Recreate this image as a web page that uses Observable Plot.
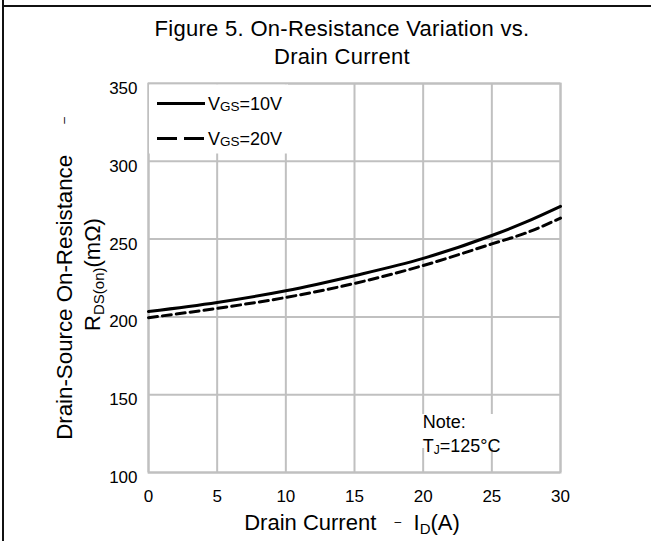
<!DOCTYPE html>
<html>
<head>
<meta charset="utf-8">
<script src="https://cdn.jsdelivr.net/npm/d3@7"></script>
<script src="https://cdn.jsdelivr.net/npm/@observablehq/plot@0.6"></script>
<style>
  html, body { margin: 0; padding: 0; background: #fff; }
  #wrap { position: relative; width: 651px; height: 541px; overflow: hidden;
          font-family: "Liberation Sans", Arial, sans-serif; color: #000; }
  #wrap svg { position: absolute; left: 0; top: 0; }
  #title { position: absolute; left: 0; top: 15px; width: 684px; text-align: center;
           font-size: 22px; line-height: 28px; letter-spacing: 0.3px; }
  .bl { position: absolute; left: 2px; top: 0; width: 2px; height: 541px; background: #111; }
  .bt { position: absolute; left: 2px; top: 5px; width: 649px; height: 2px; background: #111; }
</style>
</head>
<body>
<div id="wrap">
  <div id="title">Figure 5. On-Resistance Variation vs.<br>Drain Current</div>
</div>
<script>
// ---- data ----
const drainCurrent = [0, 5, 10, 15, 20, 25, 27.5, 30];           // A
const rdsVgs10 = [203.5, 209.3, 216.8, 226.5, 237.6, 252.3, 261, 271]; // mΩ
const rdsVgs20 = [199.5, 205.5, 212.5, 221.5, 233, 246.9, 254, 263.5]; // mΩ
const xTicks = [0, 5, 10, 15, 20, 25, 30];
const yTicks = [100, 150, 200, 250, 300, 350];
const seriesLabels = [["V", "GS", "=10V"], ["V", "GS", "=20V"]];
const noteLines = ["Note:", ["T", "J", "=125°C"]];

const s10 = drainCurrent.map((x, i) => ({x, y: rdsVgs10[i]}));
const s20 = drainCurrent.map((x, i) => ({x, y: rdsVgs20[i]}));

const FONT = '"Liberation Sans", Arial, sans-serif';
const gridColor = "#c0c0c0";

const chart = Plot.plot({
  width: 651,
  height: 541,
  marginLeft: 148,
  marginRight: 91,
  marginTop: 83,
  marginBottom: 69,
  style: {fontFamily: FONT, fontSize: "17px", background: "transparent", color: "#000", overflow: "visible"},
  x: {domain: [0, 30]},
  y: {domain: [100, 350]},
  marks: [
    Plot.gridX(xTicks, {stroke: gridColor, strokeOpacity: 1, strokeWidth: 2}),
    Plot.gridY(yTicks, {stroke: gridColor, strokeOpacity: 1, strokeWidth: 2}),
    Plot.frame({stroke: gridColor, strokeWidth: 2}),
    Plot.axisX(xTicks, {tickSize: 0, tickPadding: 17, label: null, fontSize: 17}),
    Plot.axisY(yTicks, {tickSize: 0, tickPadding: 11, label: null, fontSize: 17, dy: 5}),
    Plot.line(s10, {x: "x", y: "y", stroke: "#000", strokeWidth: 3, curve: "monotone-x"}),
    Plot.line(s20, {x: "x", y: "y", stroke: "#000", strokeWidth: 3, strokeDasharray: "9,5", curve: "monotone-x"})
  ]
});

(function () {
  const wrap = document.getElementById("wrap");
  wrap.prepend(chart);
  const bl = document.createElement("div"); bl.className = "bl";
  const bt = document.createElement("div"); bt.className = "bt";
  wrap.append(bl, bt);

  const svg = d3.select(chart);
  const xs = chart.scale("x"), ys = chart.scale("y");
  const pLeft = xs.apply(0), pTop = ys.apply(350), pBottom = ys.apply(100);
  const g = svg.append("g").attr("font-family", FONT).attr("fill", "#000").attr("text-anchor", "start");

  // legend box (covers grid)
  g.append("rect").attr("x", pLeft + 1).attr("y", pTop + 1.5).attr("width", 139).attr("height", 69).attr("fill", "#fff");
  const legY = [pTop + 20.5, pTop + 55.5];
  seriesLabels.forEach((lab, i) => {
    g.append("line").attr("x1", pLeft + 9).attr("x2", pLeft + 57).attr("y1", legY[i]).attr("y2", legY[i])
      .attr("stroke", "#000").attr("stroke-width", 3)
      .attr("stroke-dasharray", i === 1 ? "20,7" : null);
    const t = g.append("text").attr("x", pLeft + 60).attr("y", legY[i] + 6.5).attr("font-size", 18);
    t.append("tspan").text(lab[0]);
    t.append("tspan").attr("font-size", 13.5).attr("dy", 1).text(lab[1]);
    t.append("tspan").attr("dy", -1).text(lab[2]);
  });

  // note box
  const nx = xs.apply(20);
  g.append("rect").attr("x", nx - 5).attr("y", pBottom - 58).attr("width", 82).attr("height", 34).attr("fill", "#fff");
  g.append("text").attr("x", nx).attr("y", pBottom - 44).attr("font-size", 18).text(noteLines[0]);
  const nt = g.append("text").attr("x", nx).attr("y", pBottom - 20).attr("font-size", 18);
  nt.append("tspan").text(noteLines[1][0]);
  nt.append("tspan").attr("font-size", 12).attr("dy", 2).text(noteLines[1][1]);
  nt.append("tspan").attr("dy", -2).text(noteLines[1][2]);

  // y-axis title (two lines, rotated)
  const cy = (pTop + pBottom) / 2;
  const y1 = g.append("text").attr("transform", `translate(71.5,${cy + 1}) rotate(-90)`).attr("text-anchor", "middle").attr("font-size", 22.3);
  y1.append("tspan").text("Drain-Source On-Resistance\u00A0\u00A0\u00A0\u00A0\u00A0");
  y1.append("tspan").attr("font-size", 12).attr("dy", -4).text("–");
  const y2 = g.append("text").attr("transform", `translate(100,${cy - 3}) rotate(-90)`).attr("text-anchor", "middle").attr("font-size", 22);
  y2.append("tspan").text("R");
  y2.append("tspan").attr("font-size", 15).attr("dy", 4).text("DS(on)");
  y2.append("tspan").attr("dy", -4).text("(mΩ)");

  // x-axis title
  const xt = g.append("text").attr("x", 352).attr("y", 530).attr("text-anchor", "middle").attr("font-size", 22);
  xt.append("tspan").text("Drain Current\u00A0\u00A0\u00A0");
  xt.append("tspan").attr("font-size", 12).attr("dy", -4).text("–");
  xt.append("tspan").attr("dy", 4).text("\u00A0\u00A0I");
  xt.append("tspan").attr("font-size", 15).attr("dy", 4).text("D");
  xt.append("tspan").attr("dy", -4).text("(A)");
})();
</script>
</body>
</html>
